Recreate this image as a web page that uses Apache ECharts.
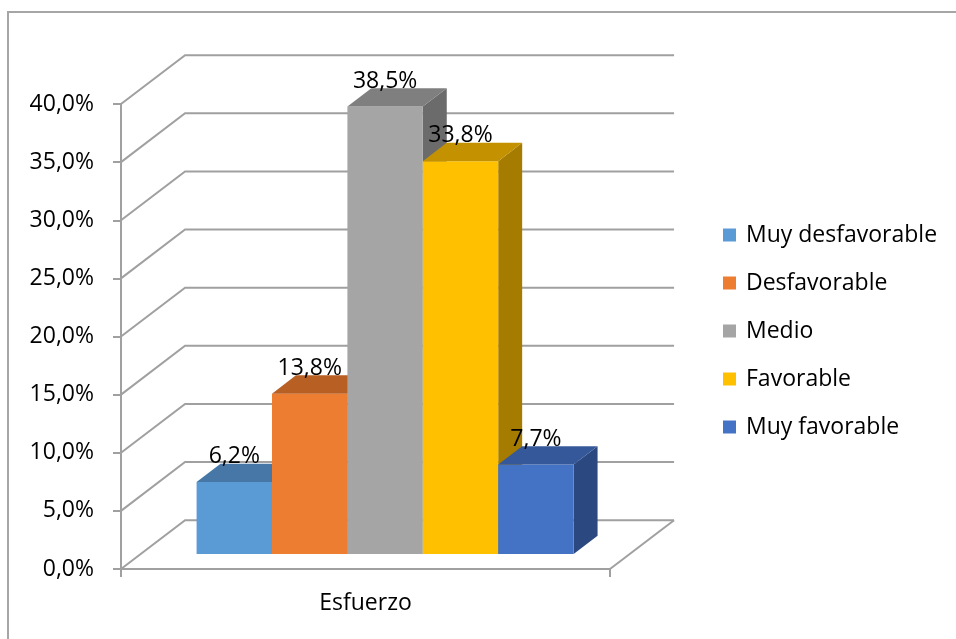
<!DOCTYPE html>
<html><head><meta charset="utf-8">
<script src="https://cdn.jsdelivr.net/npm/echarts@6/dist/echarts.min.js"></script>
<style>html,body{margin:0;padding:0;background:#fff}#c{width:956px;height:639px}</style>
</head><body><div id="c"></div>
<script>
const categories = ['Esfuerzo'];
const seriesNames = ['Muy desfavorable', 'Desfavorable', 'Medio', 'Favorable', 'Muy favorable'];
const values = [6.2, 13.8, 38.5, 33.8, 7.7];
const yTicks = [0, 5, 10, 15, 20, 25, 30, 35, 40];
const frontColors = ['#5B9BD5', '#ED7D31', '#A5A5A5', '#FFC000', '#4472C4'];
const topColors = ['#4677A6', '#B85F24', '#7F7F7F', '#C49200', '#34589A'];
const sideColors = ['#3B6690', '#9E5220', '#6B6B6B', '#A67C00', '#2B4880'];

const FONT = 'Open Sans';
const FS = 23;
const GRID_COLOR = '#a0a0a0';
const DEPTH_X = 0.131;   // depth offset as fraction of band width
const DEPTH_Y = 0.105;   // depth offset as fraction of axis height
const BAR_FRONT = 0.306; // depth position of bar front face
const BAR_BACK = 0.68;   // depth position of bar back face
const BAR_W = 0.1542;    // bar width as fraction of band

function fmt(v) { return v.toFixed(1).replace('.', ',') + '%'; }

function geom(api) {
  const c0 = api.coord([0, 0]);
  const bw = api.size([1, 0])[0];
  const h = Math.abs(api.coord([0, yTicks[yTicks.length - 1]])[1] - c0[1]);
  return { cx: c0[0], y0: c0[1], bw: bw, dx: bw * DEPTH_X, dy: -h * DEPTH_Y };
}

function wallRender(params, api) {
  const v = api.value(1);
  const g = geom(api);
  const p = api.coord([0, v]);
  const left = g.cx - g.bw / 2, right = g.cx + g.bw / 2;
  const children = [{
    type: 'polyline',
    shape: { points: [[left, p[1]], [left + g.dx, p[1] + g.dy], [right + g.dx, p[1] + g.dy]] },
    style: { stroke: GRID_COLOR, lineWidth: 2, fill: null }
  }];
  if (v === 0) {
    children.push({
      type: 'line',
      shape: { x1: right, y1: p[1], x2: right + g.dx, y2: p[1] + g.dy },
      style: { stroke: GRID_COLOR, lineWidth: 2 }
    });
  }
  return { type: 'group', children: children };
}

function makeBar(i) {
  return function (params, api) {
    const v = api.value(1);
    const g = geom(api);
    const barW = g.bw * BAR_W;
    const left = g.cx - 2.5 * barW + i * barW + g.dx * BAR_FRONT;
    const right = left + barW;
    const base = g.y0 + g.dy * BAR_FRONT;
    const top = api.coord([0, v])[1] + g.dy * BAR_FRONT;
    const ddx = g.dx * (BAR_BACK - BAR_FRONT), ddy = g.dy * (BAR_BACK - BAR_FRONT);
    return {
      type: 'group',
      children: [
        { type: 'polygon', z2: i * 3,
          shape: { points: [[right, top], [right + ddx, top + ddy], [right + ddx, base + ddy], [right, base]] },
          style: { fill: sideColors[i] } },
        { type: 'rect', z2: i * 3 + 1,
          shape: { x: left, y: top, width: barW, height: base - top },
          style: { fill: frontColors[i] } },
        { type: 'polygon', z2: i * 3 + 2,
          shape: { points: [[left, top], [left + ddx, top + ddy], [right + ddx, top + ddy], [right, top]] },
          style: { fill: topColors[i] } },
        { type: 'text', z2: 100,
          style: { x: (left + right) / 2, y: top + ddy - 7, text: fmt(v), fill: '#000',
                   font: FS + 'px "' + FONT + '"', textAlign: 'center', textVerticalAlign: 'middle' } }
      ]
    };
  };
}

const series = [{
  type: 'custom', name: '_walls', silent: true, z: 1,
  data: yTicks.map(v => [0, v]),
  encode: { x: 0, y: 1 },
  renderItem: wallRender
}];
seriesNames.forEach((n, i) => {
  series.push({
    type: 'custom', name: n, z: 3,
    data: [[0, values[i]]],
    encode: { x: 0, y: 1 },
    itemStyle: { color: frontColors[i] },
    renderItem: makeBar(i)
  });
});

const chart = echarts.init(document.getElementById('c'));
chart.setOption({
  backgroundColor: '#fff',
  animation: false,
  grid: { left: 121, right: 346, top: 104, bottom: 70 },
  xAxis: {
    type: 'category', data: categories,
    axisLine: { lineStyle: { color: GRID_COLOR, width: 2 } },
    axisTick: { show: true, length: 8, lineStyle: { color: GRID_COLOR, width: 2 } },
    axisLabel: { margin: 23, color: '#000', fontFamily: FONT, fontSize: FS },
    splitLine: { show: false }
  },
  yAxis: {
    type: 'value', min: 0, max: 40, interval: 5,
    axisLine: { show: true, lineStyle: { color: GRID_COLOR, width: 2 } },
    axisTick: { show: true, length: 8, lineStyle: { color: GRID_COLOR, width: 2 } },
    axisLabel: { margin: 27, color: '#000', fontFamily: FONT, fontSize: FS, formatter: fmt },
    splitLine: { show: false }
  },
  legend: {
    orient: 'vertical', left: 718, top: 218,
    itemWidth: 13, itemHeight: 13, itemGap: 24, icon: 'rect',
    data: seriesNames,
    textStyle: { fontFamily: FONT, fontSize: FS, color: '#000', lineHeight: 24, padding: [0, 0, 0, 5] }
  },
  graphic: [{
    type: 'polyline', silent: true,
    shape: { points: [[8, 639], [8, 12], [956, 12]] },
    style: { stroke: '#a6a6a6', lineWidth: 2, fill: null }
  }],
  series: series
});
</script></body></html>
